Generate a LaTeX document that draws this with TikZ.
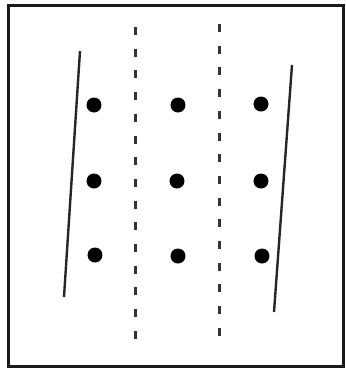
\documentclass[tikz,border=0pt]{standalone}
\usepackage{tikz}
\tikzset{
  framebox/.style={draw=black!90,line width=3pt},
  dotnode/.style={circle,fill=black,minimum size=15pt,inner sep=0pt},
  slantline/.style={draw=black!85,line width=2.4pt},
  sepline/.style={draw=black!80,line width=3pt,dash pattern=on 8pt off 13.7pt},
}

\begin{document}
\begin{tikzpicture}[x=1pt,y=-1pt]
  \useasboundingbox (0,0) rectangle (346,368);
  \fill[white] (0,0) rectangle (346,368);
  \draw[framebox] (9,5) rectangle (344,366);
  % dots
  \node[dotnode] (d11) at (94,105) {};
  \node[dotnode] (d12) at (178,105) {};
  \node[dotnode] (d13) at (261,104) {};
  \node[dotnode] (d21) at (94,181) {};
  \node[dotnode] (d22) at (177,181) {};
  \node[dotnode] (d23) at (261,181) {};
  \node[dotnode] (d31) at (95,255) {};
  \node[dotnode] (d32) at (178,256) {};
  \node[dotnode] (d33) at (262,256) {};
  % slanted lines
  \coordinate (lt) at (80,51);
  \coordinate (lb) at (64,297);
  \coordinate (rt) at (292,65);
  \coordinate (rb) at (274,312);
  \draw[slantline] (lt) -- (lb);
  \draw[slantline] (rt) -- (rb);
  % dashed separators
  \coordinate (s1t) at (136,27);
  \coordinate (s1b) at (136,345);
  \coordinate (s2t) at (220,24);
  \coordinate (s2b) at (220,343);
  \draw[sepline] (s1t) -- (s1b);
  \draw[sepline] (s2t) -- (s2b);
\end{tikzpicture}
\end{document}
